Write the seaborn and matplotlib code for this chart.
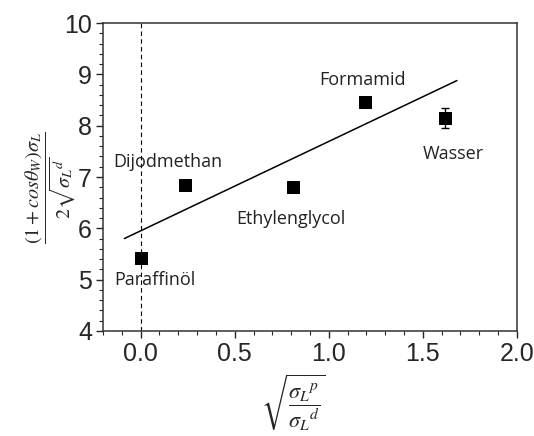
import matplotlib
matplotlib.use("Agg")
import matplotlib.pyplot as plt
import seaborn as sns
import pandas as pd
from matplotlib.ticker import MultipleLocator

names = ["Paraffinöl", "Dijodmethan", "Ethylenglycol", "Formamid", "Wasser"]
x_vals = [0.0, 0.236, 0.81, 1.193, 1.619]
y_vals = [5.42, 6.85, 6.81, 8.47, 8.15]
y_err = [0.0, 0.0, 0.0, 0.05, 0.2]
label_x = [0.075, 0.145, 0.80, 1.18, 1.66]
label_y = [5.0, 7.3, 6.18, 8.9, 7.45]
fit_x = [-0.087, 1.681]
fit_y = [5.80, 8.88]

sns.set_style("ticks")
plt.rcParams["mathtext.fontset"] = "stix"

fig = plt.figure(figsize=(5.34, 4.36), dpi=100)
ax = fig.add_axes([0.193, 0.241, 0.775, 0.706])

df = pd.DataFrame({"x": x_vals, "y": y_vals, "name": names})
fit = pd.DataFrame({"x": fit_x, "y": fit_y})

ax.axvline(0.0, color="black", lw=0.8, ls=(0, (4, 3)), zorder=1)
sns.lineplot(data=fit, x="x", y="y", ax=ax, color="black", lw=1.1, zorder=2)
ax.errorbar(x_vals, y_vals, yerr=y_err, fmt="none", ecolor="black",
            elinewidth=1.0, capsize=3, zorder=3)
sns.scatterplot(data=df, x="x", y="y", ax=ax, marker="s", s=80,
                color="black", edgecolor="black", zorder=4)

for n, lx, ly in zip(names, label_x, label_y):
    ax.text(lx, ly, n, ha="center", va="center", fontsize=13,
            family="Open Sans", color="#222222")

ax.set_xlim(-0.2, 2.0)
ax.set_ylim(4, 10)
ax.xaxis.set_major_locator(MultipleLocator(0.5))
ax.xaxis.set_minor_locator(MultipleLocator(0.1))
ax.yaxis.set_major_locator(MultipleLocator(1))
ax.yaxis.set_minor_locator(MultipleLocator(0.2))
ax.set_xticks([0.0, 0.5, 1.0, 1.5, 2.0])
ax.set_xticklabels(["0.0", "0.5", "1.0", "1.5", "2.0"])
ax.tick_params(axis="both", which="major", direction="out", length=5,
               width=1, labelsize=18, pad=3)
ax.tick_params(axis="both", which="minor", direction="out", length=3, width=0.8)
for lab in ax.get_xticklabels() + ax.get_yticklabels():
    lab.set_family("Liberation Sans")
for sp in ax.spines.values():
    sp.set_linewidth(1.1)
    sp.set_color("#333333")

ax.set_xlabel(r"$\sqrt{\dfrac{{\sigma_L}^{p}}{{\sigma_L}^{d}}}$", fontsize=16)
ax.xaxis.set_label_coords(0.46, -0.135, transform=ax.transAxes)
ax.xaxis.label.set_va("top")
ax.set_ylabel(r"$\dfrac{(1+cos\theta_W)\sigma_L}{2\sqrt{{\sigma_L}^{d}}}$", fontsize=14.5)
ax.yaxis.label.set_va("center")
ax.yaxis.label.set_ha("center")
ax.yaxis.set_label_coords(-0.128, 0.465, transform=ax.transAxes)

fig.savefig("out.png", dpi=100)
